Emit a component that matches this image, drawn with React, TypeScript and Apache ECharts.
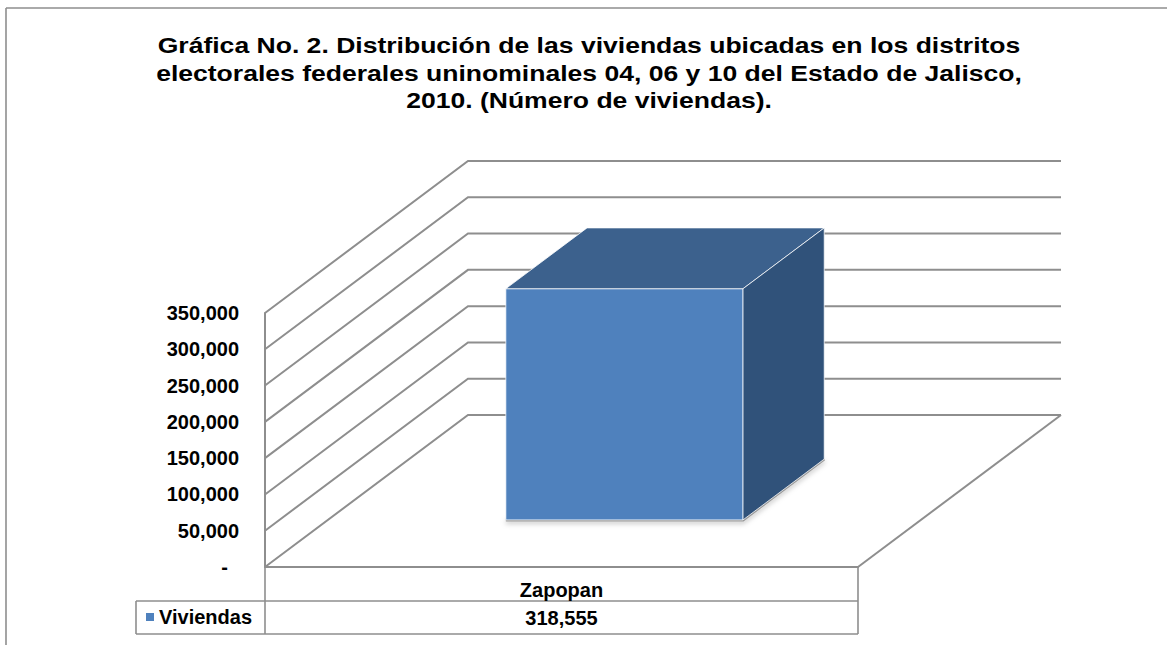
import React, { useEffect, useRef } from "react";
import * as echarts from "echarts";

const TITLE_LINES = [
  "Gráfica No. 2. Distribución de las viviendas ubicadas en los distritos",
  "electorales federales uninominales 04, 06 y 10 del Estado de Jalisco,",
  "2010. (Número de viviendas).",
];
const CATEGORIES = ["Zapopan"];
const SERIES_NAME = "Viviendas";
const VALUES = [318555];
const Y_TICKS = [0, 50000, 100000, 150000, 200000, 250000, 300000, 350000];
const Y_MAX = 350000;
const Y_STEP = 50000;

const FONT = "'Liberation Sans', Arial, sans-serif";
const LINE = "#8e8e8e";
const DEPTH_X = 203;
const DEPTH_Y = -152;
const BAR_FRONT = 0.31;
const BAR_BACK = 0.71;
const BAR_WIDTH = 0.4;

const fmt = (v: number) => v.toLocaleString("en-US");

export default function App() {
  const ref = useRef<HTMLDivElement>(null);
  useEffect(() => {
    if (!ref.current) return;
    const chart = echarts.init(ref.current, undefined, { renderer: "svg" });

    const wallItem = (params: any, api: any) => {
      const cs = params.coordSys;
      const v = api.value(1);
      const y = api.coord([0, v])[1];
      const x0 = cs.x;
      const x1 = cs.x + cs.width;
      const children: any[] = [
        {
          type: "polyline",
          shape: {
            points: [
              [x0, y],
              [x0 + DEPTH_X, y + DEPTH_Y],
              [x1 + DEPTH_X, y + DEPTH_Y],
            ],
          },
          style: { stroke: LINE, lineWidth: 2, fill: null },
        },
      ];
      if (v === 0) {
        children.push({
          type: "line",
          shape: { x1: x1, y1: y, x2: x1 + DEPTH_X, y2: y + DEPTH_Y },
          style: { stroke: LINE, lineWidth: 2 },
        });
      }
      return { type: "group", children };
    };

    const barItem = (params: any, api: any) => {
      const cs = params.coordSys;
      const cat = api.value(0);
      const val = api.value(1);
      const xc = api.coord([cat, 0])[0];
      const y0 = api.coord([cat, 0])[1];
      const y1 = api.coord([cat, val])[1];
      const band = api.size([1, 0])[0];
      const w = band * BAR_WIDTH;
      const fx = xc - w / 2 + BAR_FRONT * DEPTH_X;
      const fy0 = y0 + BAR_FRONT * DEPTH_Y;
      const fy1 = y1 + BAR_FRONT * DEPTH_Y;
      const bx = (BAR_BACK - BAR_FRONT) * DEPTH_X;
      const by = (BAR_BACK - BAR_FRONT) * DEPTH_Y;
      const edge = { stroke: "rgba(255,255,255,0.75)", lineWidth: 1 };
      return {
        type: "group",
        children: [
          {
            type: "polyline",
            shape: {
              points: [
                [fx, fy0],
                [fx + w, fy0],
                [fx + w + bx, fy0 + by],
              ],
            },
            style: {
              stroke: "rgba(90,90,90,0.55)",
              lineWidth: 3,
              fill: null,
              shadowBlur: 5,
              shadowColor: "rgba(0,0,0,0.5)",
              shadowOffsetY: 2,
            },
          },
          {
            type: "polygon",
            shape: {
              points: [
                [fx, fy1],
                [fx + w, fy1],
                [fx + w, fy0],
                [fx, fy0],
              ],
            },
            style: { fill: "#4F81BD", ...edge },
          },
          {
            type: "polygon",
            shape: {
              points: [
                [fx, fy1],
                [fx + bx, fy1 + by],
                [fx + w + bx, fy1 + by],
                [fx + w, fy1],
              ],
            },
            style: { fill: "#3C618D", ...edge },
          },
          {
            type: "polygon",
            shape: {
              points: [
                [fx + w, fy1],
                [fx + w + bx, fy1 + by],
                [fx + w + bx, fy0 + by],
                [fx + w, fy0],
              ],
            },
            style: { fill: "#30527A", ...edge },
          },
          {
            type: "text",
            x: xc,
            y: cs.y + cs.height + 51,
            style: {
              text: fmt(val),
              align: "center",
              verticalAlign: "middle",
              fontSize: 20,
              fontWeight: "bold",
              fontFamily: FONT,
              fill: "#000",
            },
          },
        ],
      };
    };

    const tableLine = (x1: number, y1: number, x2: number, y2: number) => ({
      type: "line",
      shape: { x1, y1, x2, y2 },
      style: { stroke: LINE, lineWidth: 1.6 },
      silent: true,
    });

    chart.setOption({
      animation: false,
      backgroundColor: "#ffffff",
      textStyle: { fontFamily: FONT },
      grid: { left: 265, right: 309, top: 313, bottom: 78, containLabel: false },
      legend: {
        data: [{ name: SERIES_NAME, icon: "rect" }],
        left: 146,
        top: 607,
        padding: 0,
        itemWidth: 8,
        itemHeight: 8,
        itemGap: 5,
        textStyle: { fontSize: 20, fontWeight: "bold", color: "#000", fontFamily: FONT },
      },
      xAxis: {
        type: "category",
        data: CATEGORIES,
        axisTick: { show: false },
        axisLine: { lineStyle: { color: LINE, width: 2 } },
        axisLabel: {
          fontSize: 20,
          fontWeight: "bold",
          color: "#000",
          fontFamily: FONT,
          verticalAlign: "middle",
          margin: 23,
        },
        splitLine: { show: false },
      },
      yAxis: {
        type: "value",
        min: 0,
        max: Y_MAX,
        interval: Y_STEP,
        axisLine: { show: true, lineStyle: { color: LINE, width: 2 } },
        axisTick: { show: false },
        splitLine: { show: false },
        axisLabel: {
          fontSize: 20,
          fontWeight: "bold",
          color: "#000",
          fontFamily: FONT,
          margin: 26,
          formatter: (v: number) => (v === 0 ? "{d|-}" : fmt(v)),
          rich: {
            d: {
              fontSize: 20,
              fontWeight: "bold",
              color: "#000",
              fontFamily: FONT,
              padding: [0, 11, 0, 0],
            },
          },
        },
      },
      graphic: [
        tableLine(6, 8, 6, 645),
        tableLine(6, 8, 1167, 8),
        tableLine(265, 567, 265, 634),
        tableLine(858, 567, 858, 634),
        tableLine(136, 601, 136, 634),
        tableLine(136, 601, 858, 601),
        tableLine(136, 634, 858, 634),
        {
          type: "text",
          x: 589,
          y: 31.5,
          scaleX: 1.18,
          silent: true,
          style: {
            text: TITLE_LINES.join("\n"),
            align: "center",
            verticalAlign: "top",
            fontSize: 22.5,
            lineHeight: 27.5,
            fontWeight: "bold",
            fontFamily: FONT,
            fill: "#000",
          },
        },
      ],
      series: [
        {
          type: "custom",
          name: "walls",
          silent: true,
          renderItem: wallItem,
          data: Y_TICKS.map((v) => [0, v]),
          z: 1,
        },
        {
          type: "custom",
          name: SERIES_NAME,
          renderItem: barItem,
          itemStyle: { color: "#4F81BD" },
          data: VALUES.map((v, i) => [i, v]),
          z: 3,
        },
      ],
    });
    return () => chart.dispose();
  }, []);
  return (
    <div
      ref={ref}
      style={{ position: "fixed", left: 0, top: 0, width: 1167, height: 645 }}
    />
  );
}
